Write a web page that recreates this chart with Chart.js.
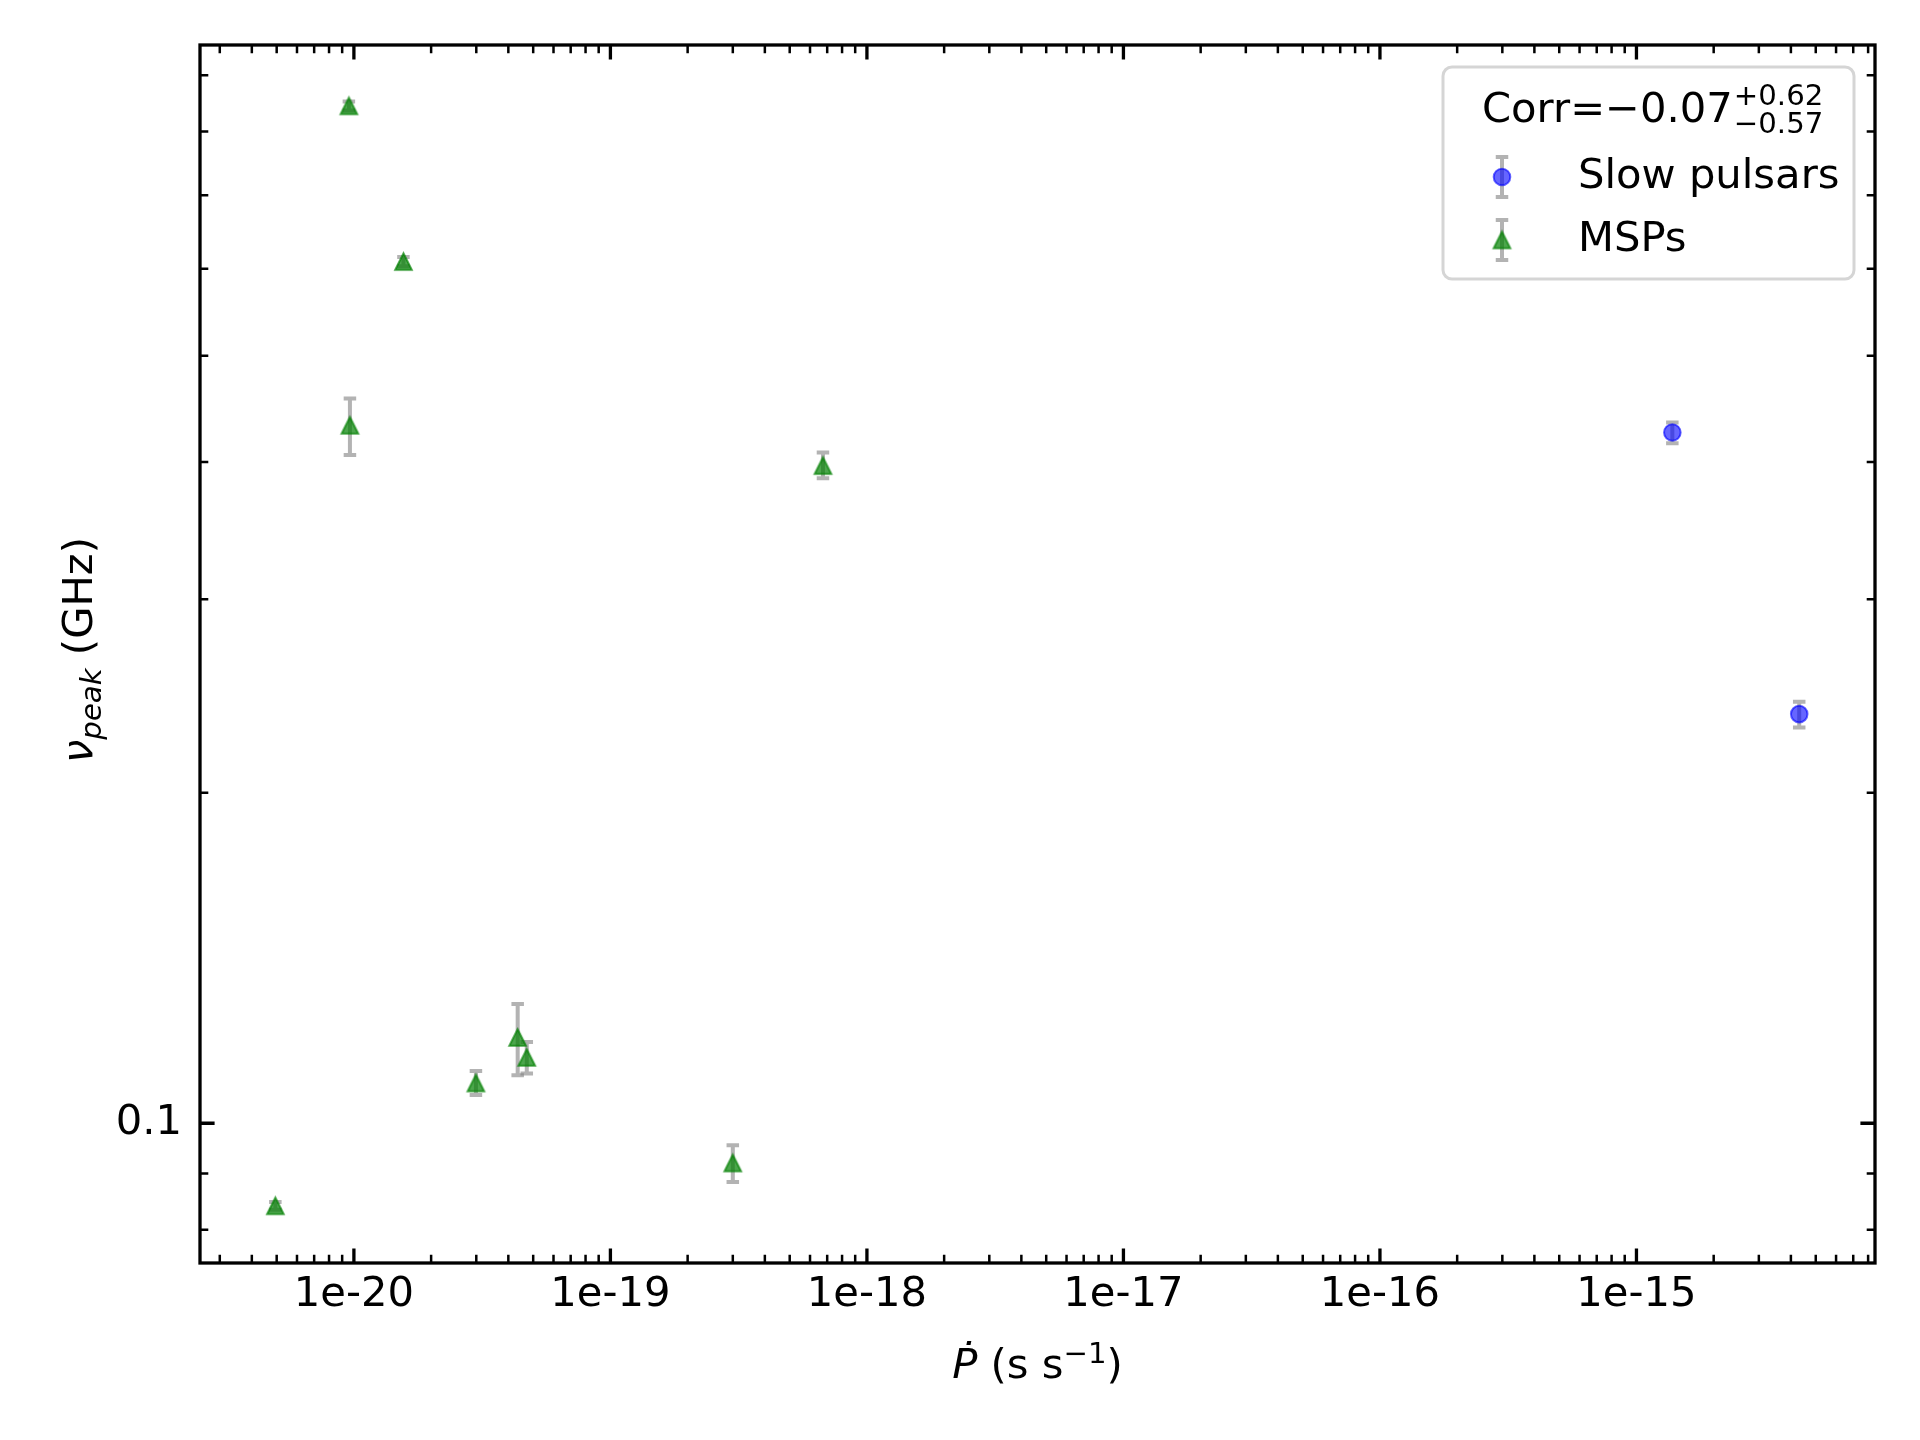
<!DOCTYPE html>
<html>
<head>
<meta charset="utf-8">
<script src="https://cdn.jsdelivr.net/npm/chart.js@4.4.1/dist/chart.umd.min.js"></script>
<style>
  html, body { margin: 0; padding: 0; background: #fff; }
  canvas { display: block; }
</style>
</head>
<body>
<canvas id="chart" width="1920" height="1440"></canvas>
<script>
// Slow pulsars: Pdot (s/s), peak frequency (GHz) and error bounds
const slowPdot = [1.38e-15, 4.31e-15];
const slowNu = [0.4256, 0.2358];
const slowNuLow = [0.416, 0.2293];
const slowNuHigh = [0.4346, 0.242];

// MSPs
const mspPdot = [9.56e-21, 1.56e-20, 9.65e-21, 6.74e-19, 4.94e-21, 2.99e-20, 4.35e-20, 4.72e-20, 3.0e-19];
const mspNu = [0.844, 0.609, 0.432, 0.397, 0.0841, 0.1088, 0.1197, 0.1148, 0.0920];
const mspNuLow = [0.836, 0.603, 0.406, 0.3866, 0.0834, 0.1061, 0.1106, 0.111, 0.0884];
const mspNuHigh = [0.852, 0.615, 0.457, 0.408, 0.0848, 0.1116, 0.1284, 0.1186, 0.0955];

const seriesLabels = ['Slow pulsars', 'MSPs'];
const xTickValues = [1e-20, 1e-19, 1e-18, 1e-17, 1e-16, 1e-15];
const xTickLabels = ['1e-20', '1e-19', '1e-18', '1e-17', '1e-16', '1e-15'];
const yTickValues = [0.1];
const yTickLabels = ['0.1'];
const corrText = ['Corr=\u22120.07', '+0.62', '\u22120.57'];

const FAMILY = '"DejaVu Sans"';
const BIG = 41.7;
const SMALL = 29.2;
function font(size, italic) {
  return (italic ? 'italic ' : '') + size + 'px ' + FAMILY;
}

// log axis: majors at powers of ten, minors at 2..9
function logTicks(scale, majors) {
  const ticks = [];
  const lo = Math.floor(Math.log10(scale.min));
  const hi = Math.ceil(Math.log10(scale.max));
  for (let e = lo; e <= hi; e++) {
    for (let m = 1; m <= 9; m++) {
      const v = Number(m + 'e' + e);
      if (v >= scale.min && v <= scale.max) {
        ticks.push({ value: v, major: m === 1 });
      }
    }
  }
  scale.ticks = ticks;
}

function tickLabel(values, labels) {
  return function (value) {
    for (let i = 0; i < values.length; i++) {
      if (Math.abs(value / values[i] - 1) < 1e-6) return labels[i];
    }
    return '';
  };
}

// matplotlib style '^' marker: box-centred triangle
function triangleMarker(half, fill, stroke, lw) {
  const c = document.createElement('canvas');
  const size = Math.ceil(2 * half + 2 * lw + 2);
  c.width = size; c.height = size;
  const g = c.getContext('2d');
  const m = size / 2;
  g.beginPath();
  g.moveTo(m, m - half);
  g.lineTo(m - half, m + half);
  g.lineTo(m + half, m + half);
  g.closePath();
  g.fillStyle = fill;
  g.fill();
  g.strokeStyle = stroke;
  g.lineWidth = lw;
  g.lineJoin = 'miter';
  g.stroke();
  return c;
}

// draw a run of text pieces with different fonts / offsets
function drawRich(ctx, parts, x, y, align) {
  let total = 0;
  parts.forEach(p => { ctx.font = p.font; p.w = ctx.measureText(p.text).width; total += p.w; });
  let cx = align === 'left' ? x : x - total / 2;
  ctx.textAlign = 'left';
  ctx.textBaseline = 'alphabetic';
  parts.forEach(p => {
    ctx.font = p.font;
    ctx.fillText(p.text, cx, y + (p.dy || 0));
    cx += p.w;
  });
}

function errorBar(ctx, x, y1, y2) {
  ctx.beginPath();
  ctx.moveTo(x, y1); ctx.lineTo(x, y2);
  ctx.moveTo(x - 6.25, y1); ctx.lineTo(x + 6.25, y1);
  ctx.moveTo(x - 6.25, y2); ctx.lineTo(x + 6.25, y2);
  ctx.stroke();
}

const errColor = 'rgba(128, 128, 128, 0.6)';

const framePlugin = {
  id: 'frame',
  beforeDraw(chart) {
    const ctx = chart.ctx;
    ctx.save();
    ctx.fillStyle = '#ffffff';
    ctx.fillRect(0, 0, chart.width, chart.height);
    ctx.restore();
  },
  beforeDatasetsDraw(chart) {
    const ctx = chart.ctx;
    const xs = chart.scales.x, ys = chart.scales.y;
    ctx.save();
    ctx.strokeStyle = errColor;
    ctx.lineWidth = 4;
    chart.data.datasets.forEach(ds => {
      ds.data.forEach((pt, i) => {
        errorBar(ctx, xs.getPixelForValue(pt.x),
          ys.getPixelForValue(ds.errLow[i]), ys.getPixelForValue(ds.errHigh[i]));
      });
    });
    ctx.restore();
  },
  afterDraw(chart) {
    const ctx = chart.ctx;
    const a = chart.chartArea;
    const xs = chart.scales.x, ys = chart.scales.y;
    ctx.save();
    ctx.strokeStyle = '#000';

    // ticks pointing inwards on all four sides
    xs.ticks.forEach(t => {
      const p = xs.getPixelForValue(t.value);
      const len = t.major ? 14.6 : 8.3;
      ctx.lineWidth = t.major ? 3.3 : 2.5;
      ctx.beginPath();
      ctx.moveTo(p, a.bottom); ctx.lineTo(p, a.bottom - len);
      ctx.moveTo(p, a.top); ctx.lineTo(p, a.top + len);
      ctx.stroke();
    });
    ys.ticks.forEach(t => {
      const p = ys.getPixelForValue(t.value);
      const len = t.major ? 14.6 : 8.3;
      ctx.lineWidth = t.major ? 3.3 : 2.5;
      ctx.beginPath();
      ctx.moveTo(a.left, p); ctx.lineTo(a.left + len, p);
      ctx.moveTo(a.right, p); ctx.lineTo(a.right - len, p);
      ctx.stroke();
    });

    // spines
    ctx.lineWidth = 3.3;
    ctx.strokeRect(a.left, a.top, a.right - a.left, a.bottom - a.top);

    // axis titles
    ctx.fillStyle = '#000';
    drawRich(ctx, [
      { text: '\u1E56', font: font(BIG, true) },
      { text: ' (s s', font: font(BIG) },
      { text: '\u22121', font: font(SMALL), dy: -15 },
      { text: ')', font: font(BIG) }
    ], (a.left + a.right) / 2, 1378);

    ctx.save();
    ctx.translate(92, 650);
    ctx.rotate(-Math.PI / 2);
    drawRich(ctx, [
      { text: '\u03BD', font: font(BIG, true) },
      { text: 'peak', font: font(SMALL, true), dy: 9 },
      { text: ' (GHz)', font: font(BIG) }
    ], 0, 0);
    ctx.restore();

    // legend
    const lx = 1443, ly = 67, lw = 411, lh = 212;
    ctx.beginPath();
    ctx.roundRect(lx, ly, lw, lh, 9);
    ctx.fillStyle = 'rgba(255, 255, 255, 0.8)';
    ctx.fill();
    ctx.lineWidth = 3;
    ctx.strokeStyle = '#d5d5d5';
    ctx.stroke();

    ctx.fillStyle = '#000';
    const titleX = 1482;
    drawRich(ctx, [{ text: corrText[0], font: font(BIG) }], titleX, 122, 'left');
    ctx.font = font(BIG);
    const supX = titleX + ctx.measureText(corrText[0]).width + 1;
    drawRich(ctx, [{ text: corrText[1], font: font(SMALL) }], supX, 105, 'left');
    drawRich(ctx, [{ text: corrText[2], font: font(SMALL) }], supX, 133, 'left');

    const rowY = [177, 240];
    chart.data.datasets.forEach((ds, di) => {
      const y = rowY[di];
      ctx.strokeStyle = errColor;
      ctx.lineWidth = 4;
      errorBar(ctx, 1502, y - 20, y + 20);
      ctx.fillStyle = ds.backgroundColor;
      ctx.strokeStyle = ds.borderColor;
      ctx.lineWidth = ds.borderWidth;
      Chart.helpers.drawPoint(ctx, {
        pointStyle: ds.pointStyle, radius: ds.pointRadius,
        borderWidth: ds.borderWidth, rotation: 0
      }, 1502, y);
      ctx.fillStyle = '#000';
      ctx.font = font(BIG);
      ctx.textAlign = 'left';
      ctx.textBaseline = 'middle';
      ctx.fillText(ds.label, 1578, y);
    });
    ctx.restore();
  }
};

Chart.defaults.font.family = FAMILY;
Chart.defaults.font.size = BIG;
Chart.defaults.color = '#000';

const mspMarker = triangleMarker(8.3, 'rgba(0, 128, 0, 0.7)', 'rgba(0, 128, 0, 0.7)', 2);

new Chart(document.getElementById('chart').getContext('2d'), {
  type: 'scatter',
  data: {
    datasets: [
      {
        label: seriesLabels[0],
        data: slowPdot.map((x, i) => ({ x: x, y: slowNu[i] })),
        errLow: slowNuLow,
        errHigh: slowNuHigh,
        pointStyle: 'circle',
        pointRadius: 8.3,
        backgroundColor: 'rgba(0, 0, 255, 0.6)',
        borderColor: 'rgba(0, 0, 255, 0.6)',
        borderWidth: 2
      },
      {
        label: seriesLabels[1],
        data: mspPdot.map((x, i) => ({ x: x, y: mspNu[i] })),
        errLow: mspNuLow,
        errHigh: mspNuHigh,
        pointStyle: mspMarker,
        pointRadius: 9,
        backgroundColor: 'rgba(0, 128, 0, 0.7)',
        borderColor: 'rgba(0, 128, 0, 0.7)',
        borderWidth: 2
      }
    ]
  },
  options: {
    responsive: false,
    animation: false,
    devicePixelRatio: 1,
    layout: { padding: { left: 0, right: 45, top: 45, bottom: 0 } },
    plugins: {
      legend: { display: false },
      tooltip: { enabled: false }
    },
    scales: {
      x: {
        type: 'logarithmic',
        bounds: 'data',
        min: 2.512e-21,
        max: 8.51e-15,
        grid: { display: false, drawTicks: false },
        border: { display: false },
        afterBuildTicks: s => logTicks(s, xTickValues),
        afterFit: s => { s.height = 177; },
        ticks: {
          autoSkip: false,
          maxRotation: 0,
          padding: 7,
          callback: tickLabel(xTickValues, xTickLabels)
        }
      },
      y: {
        type: 'logarithmic',
        bounds: 'data',
        min: 0.0746,
        max: 0.959,
        grid: { display: false, drawTicks: false },
        border: { display: false },
        afterBuildTicks: s => logTicks(s, yTickValues),
        afterFit: s => { s.width = 200; },
        ticks: {
          autoSkip: false,
          padding: 18,
          callback: tickLabel(yTickValues, yTickLabels)
        }
      }
    }
  },
  plugins: [framePlugin]
});
</script>
</body>
</html>
